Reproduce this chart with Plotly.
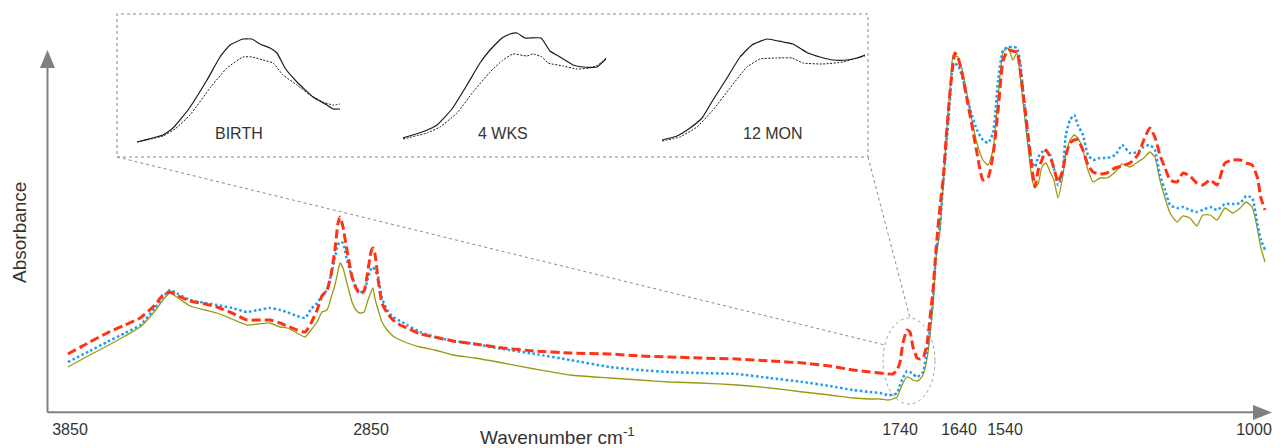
import numpy as np
import plotly.graph_objects as go

W, H = 1284, 448

# ---------------- main spectra (wavenumber cm-1, absorbance in a.u.) ----------------
wavenumber = [3857, 3784, 3727, 3667, 3617, 3568, 3541, 3518, 3491, 3451,
              3401, 3362, 3312, 3262, 3225, 3186, 3152, 3129, 3096, 3069,
              3049, 3029, 3013, 2996, 2983, 2970, 2960, 2953, 2943, 2930,
              2913, 2900, 2887, 2873, 2860, 2850, 2846, 2842, 2835, 2827,
              2816, 2804, 2789, 2774, 2747, 2716, 2678, 2632, 2573, 2506,
              2432, 2349, 2286, 2223, 2160, 2082, 2013, 1944, 1887, 1839,
              1803, 1782, 1765, 1755, 1746, 1740, 1735, 1728, 1723, 1718,
              1711, 1706, 1701, 1694, 1689, 1684, 1679, 1672, 1667, 1662,
              1655, 1650, 1647, 1642, 1633, 1623, 1612, 1601, 1588, 1577,
              1566, 1555, 1544, 1533, 1523, 1514, 1507, 1499, 1490, 1481,
              1475, 1468, 1460, 1451, 1442, 1434, 1425, 1416, 1408, 1399,
              1390, 1382, 1371, 1360, 1349, 1334, 1319, 1301, 1286, 1269,
              1252, 1239, 1226, 1215, 1204, 1193, 1182, 1167, 1154, 1139,
              1124, 1111, 1095, 1080, 1063, 1046, 1030, 1017, 1004, 993,
              985, 976]

absorbance_red = [56, 68, 77, 85, 92, 105, 115, 118, 114, 109,
                  106, 103, 97, 90, 90, 90, 87, 84, 80, 78,
                  87, 100, 114, 120, 135, 160, 186, 193, 183, 160,
                  133, 122, 116, 119, 140, 158, 162, 157, 130, 107,
                  97, 90, 85, 82, 76, 73, 69, 66, 62, 59,
                  57, 56, 54, 53, 52, 51, 49, 47, 44, 40,
                  38, 37, 36, 36, 40, 48, 67, 80, 78, 63,
                  52, 51, 52, 67, 93, 120, 160, 205, 230, 270,
                  320, 347, 357, 353, 336, 312, 285, 257, 230, 232,
                  255, 300, 350, 360, 359, 358, 340, 310, 275, 240,
                  223, 240, 250, 260, 253, 242, 228, 238, 255, 267,
                  270, 270, 260, 245, 238, 236, 237, 242, 244, 247,
                  255, 270, 282, 273, 255, 242, 230, 228, 237, 234,
                  227, 225, 230, 225, 247, 250, 250, 247, 245, 233,
                  212, 200]

absorbance_blue = [48, 59, 68, 77, 85, 102, 113, 120, 116, 110,
                   107, 105, 102, 98, 100, 102, 100, 98, 94, 92,
                   101, 107, 114, 120, 135, 152, 165, 168, 167, 150,
                   133, 123, 118, 119, 132, 141, 143, 140, 133, 112,
                   100, 93, 89, 85, 78, 73, 69, 66, 61, 56,
                   50, 43, 40, 38, 37, 36, 32, 28, 24, 20,
                   18, 17, 15, 15, 17, 25, 32, 39, 38, 36,
                   33, 35, 38, 60, 83, 112, 155, 187, 225, 260,
                   313, 347, 346, 345, 333, 313, 295, 280, 270, 267,
                   277, 330, 360, 363, 363, 362, 348, 310, 270, 247,
                   243, 253, 258, 259, 255, 242, 225, 235, 275, 290,
                   295, 285, 275, 255, 250, 252, 252, 255, 265, 257,
                   258, 263, 265, 260, 235, 220, 205, 202, 203, 200,
                   198, 200, 203, 200, 206, 206, 207, 214, 212, 187,
                   170, 160]

absorbance_olive = [43, 55, 64, 74, 83, 99, 110, 117, 112, 104,
                    100, 97, 91, 85, 86, 87, 83, 82, 77, 73,
                    80, 88, 98, 100, 112, 125, 138, 147, 142, 127,
                    108, 100, 97, 98, 110, 118, 122, 112, 100, 88,
                    80, 74, 70, 67, 63, 60, 55, 52, 47, 41,
                    35, 32, 30, 28, 27, 25, 22, 18, 15, 12,
                    11, 11, 10, 11, 13, 20, 27, 33, 32, 30,
                    29, 31, 35, 52, 75, 105, 152, 180, 225, 270,
                    323, 355, 354, 353, 340, 317, 290, 267, 250, 245,
                    260, 313, 358, 362, 350, 357, 333, 300, 263, 230,
                    223, 226, 243, 247, 238, 230, 212, 230, 255, 270,
                    275, 272, 260, 240, 228, 232, 232, 238, 246, 243,
                    248, 252, 258, 253, 230, 212, 197, 188, 194, 192,
                    184, 195, 195, 190, 202, 197, 202, 208, 203, 182,
                    162, 148]

tick_wavenumbers = [3850, 2850, 1740, 1640, 1540, 1000]
tick_labels = ["3850", "2850", "1740", "1640", "1540", "1000"]

# ---------------- inset: ester C=O band, three ages ----------------
inset_labels = ["BIRTH", "4 WKS", "12 MON"]

birth_wn_solid = [1790, 1777, 1772, 1764.5, 1755, 1748.5, 1743.5, 1737, 1732.5, 1728.5,
                  1723.5, 1720, 1716, 1710, 1702, 1695, 1692, 1688.5]
birth_abs_solid = [3, 10, 17, 35, 65, 88, 100, 106, 106, 101, 97, 92, 77, 63, 48, 40, 36, 36]
birth_wn_dash = [1790, 1777, 1771, 1763.5, 1753.5, 1745, 1737, 1732.5, 1727, 1722,
                 1717, 1710, 1703.5, 1697, 1692, 1688.5]
birth_abs_dash = [3, 9, 16, 30, 57, 77, 88, 88, 85, 82, 70, 60, 50, 43, 40, 41]

wks4_wn_solid = [1790, 1779, 1773, 1765.5, 1758, 1751.5, 1746.5, 1740.5, 1736.5, 1733,
                 1729, 1721, 1716.5, 1711.5, 1705, 1700, 1693, 1688.5]
wks4_abs_solid = [7, 14, 20, 36, 60, 82, 95, 107, 111, 112, 107, 107, 94, 88, 80, 78, 78, 86]
wks4_wn_dash = [1790, 1778, 1771.5, 1763, 1755, 1746.5, 1740, 1735, 1728, 1725,
                1720.5, 1717.5, 1710, 1703, 1696.5, 1692.5, 1688.5]
wks4_abs_dash = [6, 12, 18, 32, 53, 73, 85, 91, 89, 91, 88, 82, 79, 76, 77, 80, 87]

mon12_wn_solid = [1790, 1782.5, 1776, 1770, 1764.5, 1757.5, 1751, 1745, 1737.5, 1729.5,
                  1724.5, 1717, 1711, 1704.5, 1697.5, 1692.5, 1688.5]
mon12_abs_solid = [5, 9, 17, 27, 45, 67, 88, 100, 106, 103, 101, 92, 88, 85, 85, 87, 90]
mon12_wn_dash = [1790, 1781, 1772.5, 1764.5, 1756, 1747.5, 1741, 1732.5, 1725, 1719.5,
                 1709.5, 1699.5, 1692.5, 1688.5]
mon12_abs_dash = [4, 8, 18, 35, 57, 78, 86, 87, 87, 82, 81, 83, 87, 89]

# ---------------- axis transform (the original x scale is piecewise) ----------------
AXIS_WN = np.array([4000, 3850, 2850, 1740, 1640, 1540, 1000, 900], float)
AXIS_POS = np.array([24.85, 70, 371, 900, 959, 1005, 1254, 1300.1])


def axis_pos(wn):
    return np.interp(-np.asarray(wn, float), -AXIS_WN, AXIS_POS)


def Y(py):  # layout helper: pixel row -> main y units
    return 410 - py


FONT = "Liberation Sans, Arial, sans-serif"
TXT = "#333333"
AXC = "#808080"
RED = "#ff3314"
BLUE = "#1f9cf0"
OLIVE = "#9a9a12"

fig = go.Figure()

xs = axis_pos(wavenumber)
fig.add_trace(go.Scatter(x=xs, y=absorbance_olive, mode="lines", name="olive",
                         line=dict(color=OLIVE, width=1.3, shape="spline", smoothing=0.5)))
fig.add_trace(go.Scatter(x=xs, y=absorbance_blue, mode="lines", name="blue",
                         line=dict(color=BLUE, width=2.5, dash="2.5px,2.5px", shape="spline", smoothing=0.5)))
fig.add_trace(go.Scatter(x=xs, y=absorbance_red, mode="lines", name="red",
                         line=dict(color=RED, width=3, dash="9px,4px", shape="spline", smoothing=0.5)))

# inset panels
panel_left = [137, 403, 662]
panel_w = 203
inset_sets = [
    (birth_wn_solid, birth_abs_solid, birth_wn_dash, birth_abs_dash),
    (wks4_wn_solid, wks4_abs_solid, wks4_wn_dash, wks4_abs_dash),
    (mon12_wn_solid, mon12_abs_solid, mon12_wn_dash, mon12_abs_dash),
]
label_x = [239, 503, 773]
for i, (ws, a_s, wd, ad) in enumerate(inset_sets):
    k = i + 2
    fig.add_trace(go.Scatter(x=ws, y=a_s, mode="lines", xaxis=f"x{k}", yaxis=f"y{k}",
                             line=dict(color="#1a1a1a", width=1.2, shape="spline", smoothing=0.4)))
    fig.add_trace(go.Scatter(x=wd, y=ad, mode="lines", xaxis=f"x{k}", yaxis=f"y{k}",
                             line=dict(color="#1a1a1a", width=1, dash="2px,1.5px", shape="spline", smoothing=0.4)))
    fig.layout[f"xaxis{k}"] = dict(domain=[panel_left[i] / W, (panel_left[i] + panel_w) / W],
                                   range=[1790, 1688.5], visible=False, anchor=f"y{k}")
    fig.layout[f"yaxis{k}"] = dict(domain=[(H - 145) / H, (H - 30) / H], range=[0, 115],
                                   visible=False, anchor=f"x{k}")

shapes = []
# axes with arrows
shapes.append(dict(type="line", x0=47.5, x1=1255, y0=Y(412.3), y1=Y(412.3), line=dict(color=AXC, width=2)))
shapes.append(dict(type="line", x0=47.5, x1=47.5, y0=Y(412.3), y1=Y(66), line=dict(color=AXC, width=2)))
shapes.append(dict(type="path", path=f"M 40,{Y(68)} L 55,{Y(68)} L 47.5,{Y(50)} Z",
                   fillcolor=AXC, line=dict(color=AXC, width=0)))
shapes.append(dict(type="path", path=f"M 1253,{Y(405)} L 1253,{Y(420)} L 1272,{Y(412.5)} Z",
                   fillcolor=AXC, line=dict(color=AXC, width=0)))
# inset frame, connectors and ellipse
dot = dict(color="#8a8a8a", width=1, dash="dot")
shapes.append(dict(type="rect", x0=117, x1=868, y0=Y(157), y1=Y(14), line=dot))
shapes.append(dict(type="line", x0=117, y0=Y(157), x1=885, y1=Y(345), line=dot))
shapes.append(dict(type="line", x0=868, y0=Y(157), x1=910, y1=Y(318), line=dot))
shapes.append(dict(type="circle", x0=883, x1=935, y0=Y(404), y1=Y(318),
                   line=dict(color="#a0a0a0", width=1, dash="dot")))

annotations = []
for lab, lx in zip(inset_labels, label_x):
    annotations.append(dict(x=lx, y=Y(133), text=lab, showarrow=False, xref="x", yref="y",
                            font=dict(family=FONT, size=16, color=TXT)))
annotations.append(dict(x=19, y=Y(233), text="Absorbance", textangle=-90, showarrow=False,
                        xref="x", yref="y", font=dict(family=FONT, size=19, color=TXT)))
annotations.append(dict(x=557, y=Y(436), text="Wavenumber cm<sup>-1</sup>", showarrow=False,
                        xref="x", yref="y", font=dict(family=FONT, size=19, color=TXT)))

fig.update_layout(
    width=W, height=H,
    margin=dict(l=0, r=0, t=0, b=0),
    paper_bgcolor="white", plot_bgcolor="white",
    showlegend=False,
    shapes=shapes, annotations=annotations,
    xaxis=dict(range=[0, W], anchor="free", position=(H - 412) / H,
               showline=False, showgrid=False, zeroline=False,
               tickmode="array", tickvals=axis_pos(tick_wavenumbers).tolist(), ticktext=tick_labels,
               ticks="outside", ticklen=3, tickcolor="rgba(0,0,0,0)",
               tickfont=dict(family=FONT, size=16, color=TXT)),
    yaxis=dict(range=[-38, 410], visible=False),
)

fig.write_html("out.html")
